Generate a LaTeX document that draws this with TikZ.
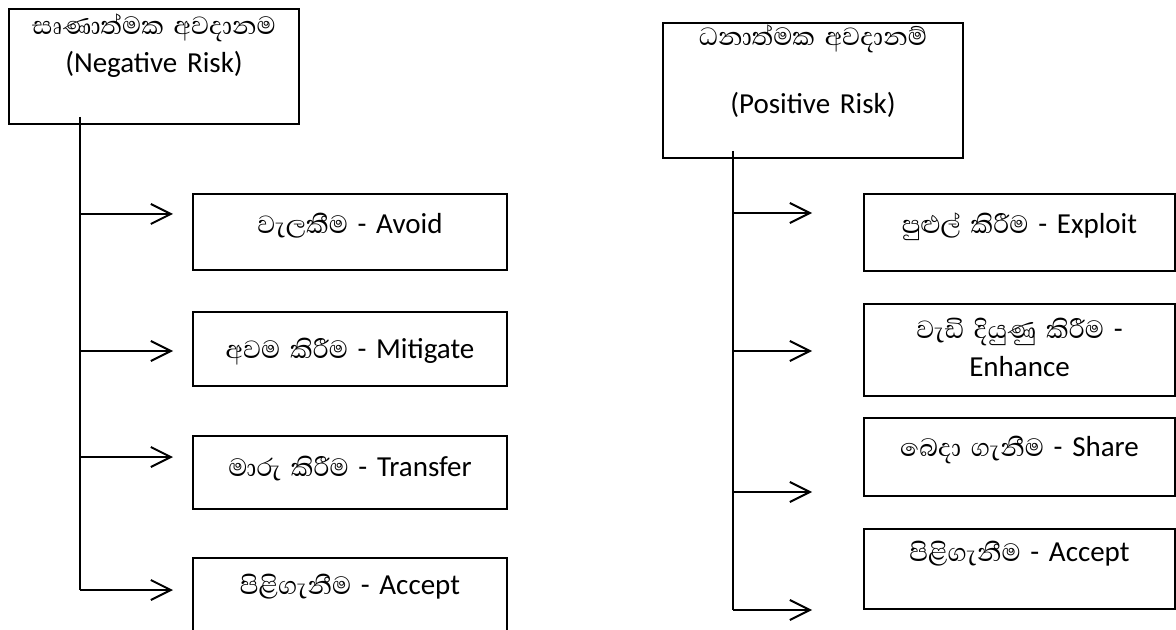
\documentclass[tikz,border=0pt]{standalone}
\usepackage{fontspec}
\setmainfont{Carlito}
\newfontfamily\sinhalafont[Script=Sinhala,Scale=1.1]{Abhaya Libre}
\usetikzlibrary{arrows.meta}

\begin{document}
\begin{tikzpicture}[x=0.5pt,y=-0.5pt,
	box/.style={draw,line width=1pt,anchor=north west,inner sep=0pt,align=center,
		font=\fontsize{14.5}{19}\selectfont},
	negbox/.style={box,text width=157pt},
	posbox/.style={box,text width=155.5pt},
	trunk/.style={line width=1pt},
	branch/.style={line width=1pt,-{Straight Barb[length=10pt,width=10pt,line width=1pt]}}]
	\useasboundingbox (0,0) rectangle (1176,630);
	\clip (0,0) rectangle (1176,630);
	% negative risk
	\node[box,text width=145pt,text height=13pt,text depth=44.5pt] (negrisk) at (8,8)
		{{\sinhalafont සෘණාත්මක අවදානම}\\(Negative Risk)};
	\node[negbox,text height=20pt,text depth=18pt] (avoid) at (192,193) {{\sinhalafont වැලකීම} - Avoid};
	\node[negbox,text height=23pt,text depth=14pt] (mitigate) at (192,311) {{\sinhalafont අවම කිරීම} - Mitigate};
	\node[negbox,text height=20pt,text depth=16.5pt] (transfer) at (192,435) {{\sinhalafont මාරු කිරීම} - Transfer};
	\node[negbox,text height=18pt,text depth=22pt] (acceptn) at (192,557) {{\sinhalafont පිළිගැනීම} - Accept};
	\coordinate (n0) at (80,590);
	\coordinate (n1) at (173,214);
	\coordinate (n2) at (173,351);
	\coordinate (n3) at (173,457);
	\coordinate (n4) at (173,590);
	\draw[trunk] (negrisk.south -| n0) ++(0,-8) -- (n0);
	\draw[branch] (n0 |- n1) -- (n1);
	\draw[branch] (n0 |- n2) -- (n2);
	\draw[branch] (n0 |- n3) -- (n3);
	\draw[branch] (n0) -- (n4);
	% positive risk
	\node[box,text width=150pt,text height=11.5pt,text depth=56pt] (posrisk) at (662,22)
		{{\sinhalafont ධනාත්මක අවදානම්}\\[15pt](Positive Risk)};
	\node[posbox,text height=20pt,text depth=18.5pt] (exploit) at (863,193) {{\sinhalafont පුළුල් කිරීම} - Exploit};
	\node[posbox,text height=17pt,text depth=29pt] (enhance) at (863,303) {{\sinhalafont වැඩි දියුණු කිරීම} -\\Enhance};
	\node[posbox,text height=19pt,text depth=20pt] (share) at (863,417) {{\sinhalafont බෙදා ගැනීම} - Share};
	\node[posbox,text height=16pt,text depth=24pt] (acceptp) at (863,528) {{\sinhalafont පිළිගැනීම} - Accept};
	\coordinate (p0) at (733,610);
	\coordinate (p1) at (812,213);
	\coordinate (p2) at (812,351);
	\coordinate (p3) at (812,492);
	\coordinate (p4) at (812,610);
	\draw[trunk] (posrisk.south -| p0) ++(0,-8) -- (p0);
	\draw[branch] (p0 |- p1) -- (p1);
	\draw[branch] (p0 |- p2) -- (p2);
	\draw[branch] (p0 |- p3) -- (p3);
	\draw[branch] (p0) -- (p4);
\end{tikzpicture}
\end{document}
